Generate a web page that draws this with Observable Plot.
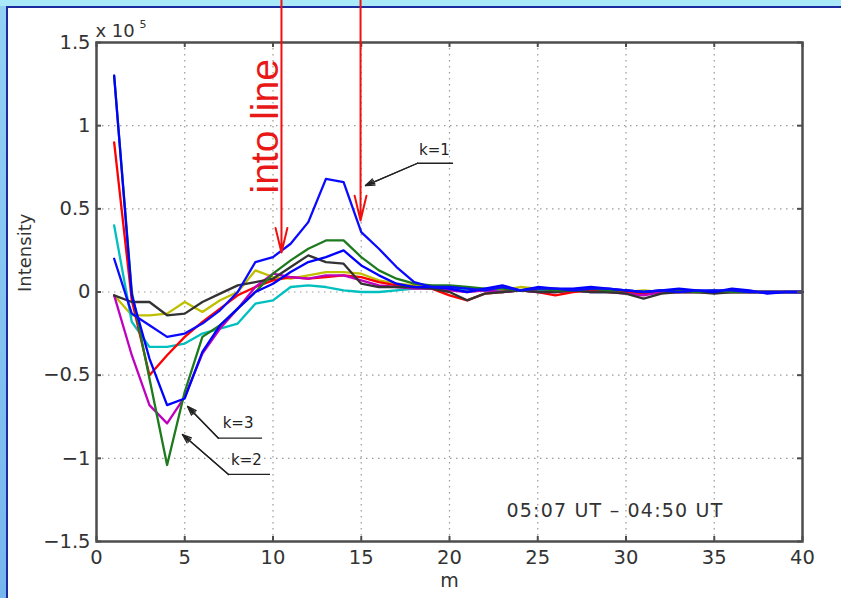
<!DOCTYPE html>
<html><head><meta charset="utf-8">
<script src="https://cdn.jsdelivr.net/npm/d3@7"></script>
<script src="https://cdn.jsdelivr.net/npm/@observablehq/plot@0.6"></script>
<style>
html,body{margin:0;padding:0;}
body{width:841px;height:598px;overflow:hidden;position:relative;
  background:linear-gradient(180deg,#a9e9f8 0px,#a9e9f8 6px,transparent 6px),linear-gradient(180deg,#94d2f4,#76b6ee);}
#panel{position:absolute;left:6px;top:6px;width:850px;height:600px;background:#fff;
  border-left:2px solid #1b2d9e;border-top:2px solid #1b2d9e;}
#chart{position:absolute;left:0;top:0;}
</style></head><body><div id="panel"></div><div id="chart"></div>
<script>
// m index
const mValues = d3.range(1, 41);
// intensity series (x 10^5)
const blueK1 = [0.20,-0.13,-0.20,-0.27,-0.25,-0.19,-0.11,0.00,0.18,0.21,0.29,0.42,0.68,0.66,0.36,0.26,0.15,0.06,0.03,0.03,0.02,0.01,0.03,0.01,0.02,0.02,0.01,0.02,0.02,0.01,0.00,0.01,0.00,0.01,0.01,0.01,0.00,0.00,0.00,0.00];
const greenK2 = [1.30,0.00,-0.52,-1.04,-0.60,-0.27,-0.20,-0.10,0.00,0.11,0.19,0.26,0.31,0.31,0.21,0.13,0.08,0.05,0.04,0.04,0.03,0.02,0.02,0.01,0.02,0.01,0.01,0.02,0.01,0.01,0.00,0.01,0.01,0.00,0.01,0.00,0.00,0.00,0.00,0.00];
const redS = [0.90,-0.05,-0.50,-0.38,-0.27,-0.18,-0.10,-0.02,0.03,0.07,0.09,0.08,0.09,0.10,0.09,0.06,0.04,0.03,0.02,-0.02,-0.05,-0.01,0.00,0.01,0.00,-0.02,0.00,0.01,0.00,0.00,-0.01,0.00,0.00,0.00,0.00,0.00,0.00,0.00,0.00,0.00];
const cyanS = [0.40,-0.18,-0.33,-0.33,-0.31,-0.25,-0.22,-0.19,-0.07,-0.05,0.03,0.04,0.03,0.01,0.00,0.00,0.01,0.02,0.02,0.02,0.01,0.01,0.00,0.01,0.01,0.00,0.01,0.00,0.00,0.00,0.00,0.00,0.00,0.00,0.00,0.00,0.00,0.00,0.00,0.00];
const magentaS = [-0.02,-0.38,-0.68,-0.79,-0.63,-0.37,-0.22,-0.10,0.03,0.11,0.09,0.08,0.10,0.10,0.07,0.04,0.03,0.02,0.02,0.01,0.00,0.01,0.00,0.01,0.00,0.00,0.01,0.00,0.00,-0.01,-0.02,0.00,0.00,0.00,0.00,0.00,0.00,0.00,0.00,0.00];
const oliveS = [-0.02,-0.14,-0.14,-0.13,-0.06,-0.12,-0.05,0.00,0.13,0.09,0.08,0.10,0.12,0.12,0.11,0.07,0.05,0.04,0.03,0.02,0.02,0.01,0.01,0.03,0.02,0.02,0.01,0.01,0.00,0.00,0.01,0.00,0.00,0.00,0.00,0.00,0.00,0.00,0.00,0.00];
const blackS = [-0.02,-0.06,-0.06,-0.14,-0.13,-0.06,-0.01,0.04,0.06,0.08,0.15,0.22,0.18,0.17,0.05,0.03,0.03,0.03,0.02,0.00,-0.05,-0.01,0.00,0.01,0.00,0.00,0.01,0.00,0.00,-0.01,-0.04,-0.01,0.00,0.00,-0.01,0.00,0.00,0.00,0.00,0.00];
const blueK3 = [1.30,-0.02,-0.40,-0.68,-0.64,-0.36,-0.20,-0.10,0.00,0.05,0.12,0.18,0.21,0.25,0.16,0.10,0.05,0.03,0.03,0.02,0.00,0.02,0.04,0.01,0.03,0.02,0.02,0.03,0.02,0.01,0.00,0.01,0.02,0.01,0.00,0.02,0.01,-0.01,0.00,0.00];

const seriesNames = ["olive","cyan","red","magenta","black","green","blueK3","blueK1"];
const seriesValues = [oliveS, cyanS, redS, magentaS, blackS, greenK2, blueK3, blueK1];
const seriesColors = ["#bfbf00","#00bfbf","#ff0000","#bf00bf","#333333","#1e7a1e","#0000ff","#0a0aff"];

const xTicks = [0,5,10,15,20,25,30,35,40];
const yTicks = [-1.5,-1,-0.5,0,0.5,1,1.5];

// annotations (data coordinates)
const kLabels = [{t:"k=1", m:19.15, v:0.851},{t:"k=3", m:8.02, v:-0.791},{t:"k=2", m:8.5, v:-1.013}];
const kUnderlines = [{m1:18.19, m2:20.23, v:0.774},{m1:6.91, m2:9.41, v:-0.879},{m1:7.48, m2:9.86, v:-1.097}];
const kArrows = [{m1:18.19, v1:0.774, m2:15.24, v2:0.640},{m1:6.91, v1:-0.879, m2:5.16, v2:-0.688},{m1:7.48, v1:-1.097, m2:4.87, v2:-0.857}];
const redArrows = [{m:10.48, v1:1.76, v2:0.237},{m:14.96, v1:1.76, v2:0.43}];
const redText = [{t:"into line", m:10.31, v:0.592}];

const data = seriesNames.flatMap((name, j) => seriesValues[j].map((v, i) => ({m: mValues[i], v, name})));

const W = 841, H = 598, mL = 96, mR = 39, mT = 42, mB = 57;
const pw = W - mL - mR, ph = H - mT - mB;
const font = "DejaVu Sans";
const fmt = d => d < 0 ? "\u2212" + (-d) : String(d);

const plot = Plot.plot({
  width: W, height: H,
  marginLeft: mL, marginRight: mR, marginTop: mT, marginBottom: mB,
  style: {background: "transparent", fontFamily: font, fontSize: "18px", color: "#333"},
  x: {domain: [0, 40], label: null},
  y: {domain: [-1.5, 1.5], label: null},
  color: {domain: seriesNames, range: seriesColors},
  marks: [
    Plot.ruleX(xTicks.slice(1, -1), {x: d => d, stroke: "#9a9a9a", strokeDasharray: "1.5,4.5", strokeWidth: 1.2}),
    Plot.ruleY(yTicks.slice(1, -1), {y: d => d, stroke: "#9a9a9a", strokeDasharray: "1.5,4.5", strokeWidth: 1.2}),
    Plot.line(data, {x: "m", y: "v", z: "name", stroke: "name", strokeWidth: 2.3, strokeLinejoin: "round"}),
    Plot.frame({stroke: "#4d4d4d", strokeWidth: 2.5}),
    Plot.tickX(xTicks, {x: d => d, insetTop: ph - 5, stroke: "#4d4d4d", strokeWidth: 2}),
    Plot.tickX(xTicks, {x: d => d, insetBottom: ph - 5, stroke: "#4d4d4d", strokeWidth: 2}),
    Plot.tickY(yTicks, {y: d => d, insetRight: pw - 5, stroke: "#4d4d4d", strokeWidth: 2}),
    Plot.tickY(yTicks, {y: d => d, insetLeft: pw - 5, stroke: "#4d4d4d", strokeWidth: 2}),
    Plot.axisX(xTicks, {tickSize: 0, tickPadding: 9, tickFormat: fmt, fontSize: 19.5, fill: "#333", label: null}),
    Plot.axisY(yTicks, {tickSize: 0, tickPadding: 6, tickFormat: fmt, fontSize: 19.5, fill: "#333", label: null}),
    Plot.text(["m"], {frameAnchor: "bottom", dy: 39, lineAnchor: "middle", fontSize: 19, fill: "#333"}),
    Plot.text(["Intensity"], {frameAnchor: "left", dx: -71, rotate: -90, lineAnchor: "middle", fontSize: 18, fill: "#333"}),
    Plot.text(["x 10"], {frameAnchor: "top-left", textAnchor: "start", lineAnchor: "bottom", dx: -1, dy: -6, fontSize: 18, fill: "#333"}),
    Plot.text(["5"], {frameAnchor: "top-left", textAnchor: "start", lineAnchor: "bottom", dx: 43, dy: -15, fontSize: 11, fill: "#333"}),
    Plot.text(["05:07 UT \u2013 04:50 UT"], {frameAnchor: "bottom-right", textAnchor: "end", lineAnchor: "middle", dx: -79, dy: -31, fontSize: 19, fill: "#333"}),
    // k annotations
    Plot.ruleY(kUnderlines, {x1: "m1", x2: "m2", y: "v", stroke: "#222", strokeWidth: 1.3}),
    Plot.arrow(kArrows, {x1: "m1", y1: "v1", x2: "m2", y2: "v2", stroke: "#222", strokeWidth: 1.3, headLength: 11, headAngle: 40}),
    Plot.arrow(kArrows, {x1: "m1", y1: "v1", x2: "m2", y2: "v2", stroke: "#222", strokeWidth: 1.3, headLength: 11, headAngle: 20}),
    Plot.text(kLabels, {x: "m", y: "v", text: "t", fontSize: 15, fill: "#222", lineAnchor: "middle"}),
    // red arrows and text
    Plot.arrow(redArrows, {x1: "m", x2: "m", y1: "v1", y2: "v2", stroke: "#f01010", strokeWidth: 2, headLength: 19, headAngle: 27}),
    Plot.text(redText, {x: "m", y: "v", text: "t", rotate: -90, textAnchor: "start", lineAnchor: "bottom", fontSize: 39, fontFamily: "Liberation Sans", fill: "#e81818"})
  ]
});

d3.select(plot).selectAll("text").filter(function() { return this.textContent.startsWith("05:07"); }).attr("letter-spacing", 1.2);
document.getElementById("chart").appendChild(plot);
</script></body></html>
